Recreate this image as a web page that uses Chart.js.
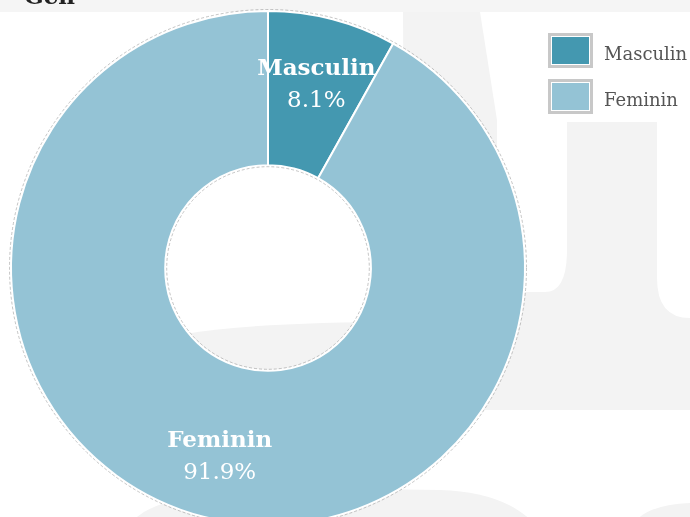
<!DOCTYPE html>
<html><head><meta charset="utf-8">
<script src="https://cdn.jsdelivr.net/npm/chart.js@4.4.0/dist/chart.umd.min.js"></script>
<style>
html,body{margin:0;padding:0;width:690px;height:517px;overflow:hidden;background:#fff;}
#wrap{position:relative;width:690px;height:540px;}
#bg,#c{position:absolute;left:0;top:0;}
</style></head><body>
<div id="wrap">
<svg id="bg" width="690" height="540" xmlns="http://www.w3.org/2000/svg">
  <g fill="#f3f3f3">
    <rect x="0" y="0" width="690" height="12" fill="#f5f5f5"/>
    <path d="M403 12 L480 12 L497 120 L497 230 Q497 290 440 292 L440 410 L405 410 Z"/>
    <path d="M567 122 L657 122 L657 278 Q657 318 690 318 L690 410 L440 410 L440 292 Q520 292 545 292 Q567 292 567 250 Z"/>
    <path d="M140 345 Q200 322 405 322 L440 322 L440 410 L140 410 Z"/>
    <path d="M128 530 Q140 490 300 488 L440 490 Q510 492 540 530 Z"/>
    <path d="M630 530 Q640 505 690 503 L690 530 Z"/>
  </g>
</svg>
<canvas id="c" width="690" height="540"></canvas>
</div>
<script>
const categories = ['Masculin', 'Feminin'];
const values = [8.1, 91.9];
const chartTitle = 'Gen';

const sliceColors = ['#4498b0', '#94c3d5'];

const decorPlugin = {
  id: 'decor',
  afterDatasetsDraw(chart) {
    const ctx = chart.ctx;
    const meta = chart.getDatasetMeta(0);
    const a0 = meta.data[0];
    ctx.save();
    ctx.strokeStyle = 'rgba(150,150,150,0.55)';
    ctx.lineWidth = 1;
    ctx.setLineDash([3, 2]);
    ctx.beginPath();
    ctx.arc(a0.x, a0.y, a0.outerRadius + 1.5, 0, Math.PI * 2);
    ctx.stroke();
    ctx.beginPath();
    ctx.arc(a0.x, a0.y, a0.innerRadius - 1.5, 0, Math.PI * 2);
    ctx.stroke();
    ctx.restore();

    meta.data.forEach((arc, i) => {
      const mid = (arc.startAngle + arc.endAngle) / 2;
      const r = (arc.innerRadius + arc.outerRadius) / 2 + 12;
      const x = arc.x + Math.cos(mid) * r;
      const y = arc.y + Math.sin(mid) * r;
      ctx.save();
      ctx.fillStyle = '#ffffff';
      ctx.textAlign = 'center';
      ctx.textBaseline = 'alphabetic';
      ctx.font = 'bold 23px "DejaVu Serif"';
      ctx.fillText(categories[i], x, y - 7);
      ctx.font = '23px "DejaVu Serif"';
      ctx.fillText(values[i].toFixed(1) + '%', x, y + 25);
      ctx.restore();
    });
  },
  afterDraw(chart) {
    const ctx = chart.ctx;
    ctx.save();
    ctx.fillStyle = '#222';
    ctx.font = 'bold 23px "DejaVu Serif"';
    ctx.textAlign = 'left';
    ctx.textBaseline = 'alphabetic';
    ctx.fillText(chartTitle, 24, 4);
    const colors = chart.data.datasets[0].backgroundColor;
    categories.forEach((c, i) => {
      const bx = 548, by = 33 + i * 46;
      ctx.fillStyle = '#c8c8c8';
      ctx.fillRect(bx, by, 45, 35);
      ctx.fillStyle = '#ffffff';
      ctx.fillRect(bx + 3, by + 3, 39, 29);
      ctx.fillStyle = colors[i];
      ctx.fillRect(bx + 4, by + 4, 37, 27);
      ctx.fillStyle = '#555';
      ctx.font = '18px "DejaVu Serif"';
      ctx.textBaseline = 'alphabetic';
      ctx.fillText(c, 604, by + 27);
    });
    ctx.restore();
  }
};

new Chart(document.getElementById('c'), {
  type: 'doughnut',
  data: {
    labels: categories,
    datasets: [{
      data: values,
      backgroundColor: sliceColors,
      borderColor: '#ffffff',
      borderWidth: 2,
      hoverOffset: 0
    }]
  },
  options: {
    responsive: false,
    animation: false,
    cutout: '40%',
    layout: { padding: { left: 10, top: 10, right: 164, bottom: 14 } },
    plugins: { legend: { display: false }, tooltip: { enabled: false }, title: { display: false } },
    events: []
  },
  plugins: [decorPlugin]
});
</script>
</body></html>
